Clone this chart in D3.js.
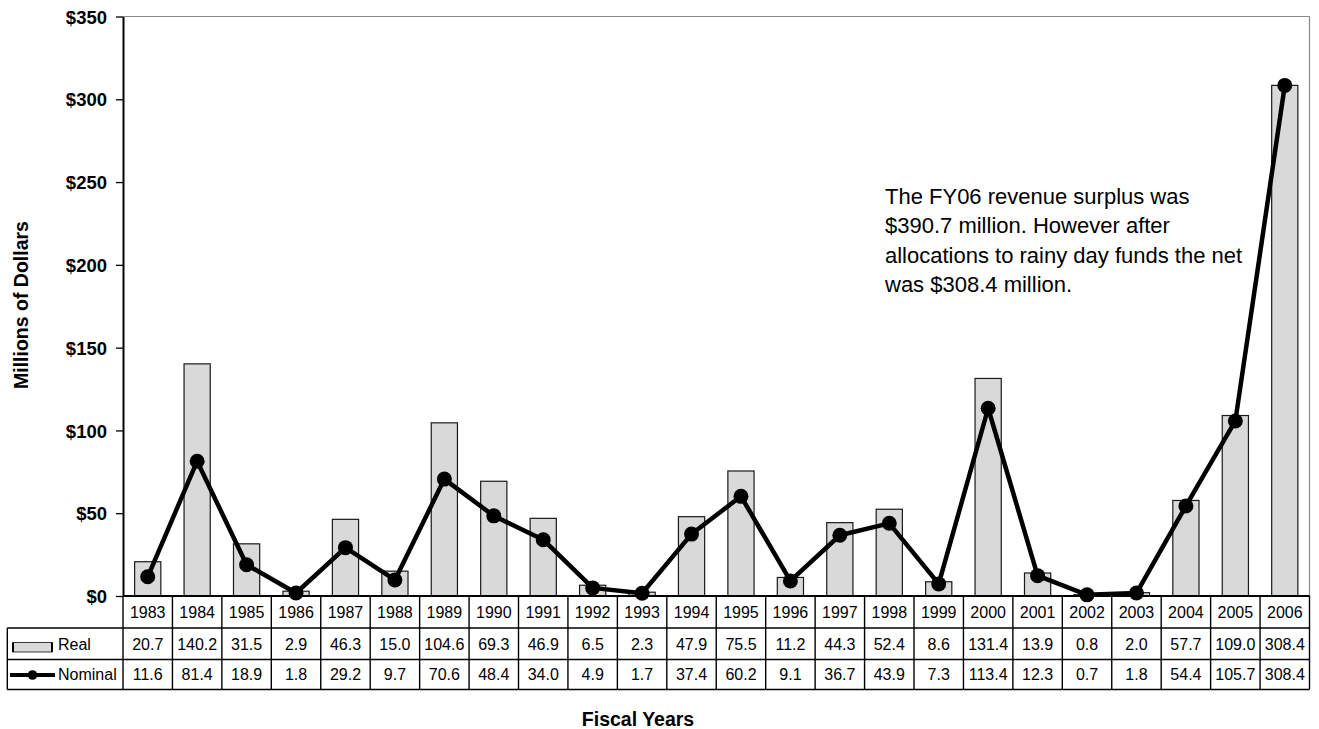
<!DOCTYPE html>
<html>
<head>
<meta charset="utf-8">
<script src="https://cdn.jsdelivr.net/npm/d3@7"></script>
<style>
  body { margin: 0; background: #fff; }
  svg { display: block; font-family: "Liberation Sans", Arial, sans-serif; }
</style>
</head>
<body>
<svg id="chart" width="1319" height="729"></svg>
<script>
const years = ["1983","1984","1985","1986","1987","1988","1989","1990","1991","1992","1993","1994","1995","1996","1997","1998","1999","2000","2001","2002","2003","2004","2005","2006"];
const realValues = [20.7,140.2,31.5,2.9,46.3,15.0,104.6,69.3,46.9,6.5,2.3,47.9,75.5,11.2,44.3,52.4,8.6,131.4,13.9,0.8,2.0,57.7,109.0,308.4];
const nominalValues = [11.6,81.4,18.9,1.8,29.2,9.7,70.6,48.4,34.0,4.9,1.7,37.4,60.2,9.1,36.7,43.9,7.3,113.4,12.3,0.7,1.8,54.4,105.7,308.4];
const yTicks = [0,50,100,150,200,250,300,350];
const seriesNames = ["Real","Nominal"];
const annotationLines = ["The FY06 revenue surplus was","$390.7 million. However after","allocations to rainy day funds the net","was $308.4 million."];

(function () {
const svg = d3.select("#chart");
const pL = 123, pR = 1309.5, pT = 16.5, pB = 596;
const tableLeft = 7.3;
const rowY = [596, 628, 659.5, 689.5];

const x = d3.scaleBand().domain(years).range([pL, pR]).paddingInner(0).paddingOuter(0);
const y = d3.scaleLinear().domain([0, 350]).range([pB, pT]);

// plot border (top & right)
svg.append("path")
  .attr("d", `M${pL},${pT}H${pR}V${pB}`)
  .attr("fill", "none").attr("stroke", "#8c8c8c").attr("stroke-width", 1.2);

// bars
const barW = x.bandwidth() * 0.53;
svg.append("g").selectAll("rect").data(years).join("rect")
  .attr("x", d => x(d) + (x.bandwidth() - barW) / 2)
  .attr("y", (d, i) => y(realValues[i]))
  .attr("width", barW)
  .attr("height", (d, i) => y(0) - y(realValues[i]))
  .attr("fill", "#d9d9d9").attr("stroke", "#1a1a1a").attr("stroke-width", 1.2);

// y axis
const yAxis = d3.axisLeft(y).tickValues(yTicks).tickFormat(d => "$" + d).tickSize(7).tickSizeOuter(0);
const gy = svg.append("g").attr("transform", `translate(${pL},0)`).call(yAxis);
gy.select(".domain").attr("stroke", "#000").attr("stroke-width", 2);
gy.selectAll(".tick line").attr("stroke", "#000").attr("stroke-width", 1.3);
gy.selectAll(".tick text").attr("x", -16).attr("dy", "0.36em")
  .attr("font-size", "18.5px").attr("font-weight", "bold").attr("fill", "#000")
  .attr("font-family", "'Liberation Sans', Arial, sans-serif");

// line + markers
const cx = d => x(d) + x.bandwidth() / 2;
const line = d3.line().x((d, i) => cx(years[i])).y(d => y(d));
svg.append("path").datum(nominalValues).attr("d", line)
  .attr("fill", "none").attr("stroke", "#000").attr("stroke-width", 4.5).attr("stroke-linejoin", "round");
svg.append("g").selectAll("circle").data(nominalValues).join("circle")
  .attr("cx", (d, i) => cx(years[i])).attr("cy", d => y(d)).attr("r", 7.5).attr("fill", "#000");

// data table
const tbl = svg.append("g");
const stroke = "#000", sw = 1.4;
tbl.append("line").attr("x1", pL).attr("x2", pR).attr("y1", rowY[0]).attr("y2", rowY[0]).attr("stroke", stroke).attr("stroke-width", 2);
[1, 2, 3].forEach(r => {
  tbl.append("line").attr("x1", tableLeft).attr("x2", pR).attr("y1", rowY[r]).attr("y2", rowY[r]).attr("stroke", stroke).attr("stroke-width", sw);
});
const vx = years.map(d => x(d)).concat([pR]);
tbl.selectAll("line.v").data(vx).join("line").attr("class", "v")
  .attr("x1", d => d).attr("x2", d => d).attr("y1", rowY[0]).attr("y2", rowY[3])
  .attr("stroke", stroke).attr("stroke-width", sw);
tbl.append("line").attr("x1", tableLeft).attr("x2", tableLeft).attr("y1", rowY[1]).attr("y2", rowY[3]).attr("stroke", stroke).attr("stroke-width", sw);

const cellText = (vals, r0, r1) => tbl.append("g").selectAll("text").data(vals).join("text")
  .attr("x", (d, i) => cx(years[i])).attr("y", (rowY[r0] + rowY[r1]) / 2)
  .attr("dy", "0.36em").attr("text-anchor", "middle").attr("font-size", "16px").attr("fill", "#000")
  .text(d => d);
cellText(years, 0, 1);
cellText(realValues.map(v => v.toFixed(1)), 1, 2);
cellText(nominalValues.map(v => v.toFixed(1)), 2, 3);

// legend keys
tbl.append("rect").attr("x", 13).attr("y", 642.5).attr("width", 39).attr("height", 9.5)
  .attr("fill", "#d9d9d9").attr("stroke", "#333").attr("stroke-width", 1);
tbl.append("line").attr("x1", 13).attr("x2", 13).attr("y1", 642.5).attr("y2", 652).attr("stroke", "#000").attr("stroke-width", 2);
tbl.append("line").attr("x1", 52).attr("x2", 52).attr("y1", 642.5).attr("y2", 652).attr("stroke", "#000").attr("stroke-width", 2);
tbl.append("text").attr("x", 58).attr("y", (rowY[1] + rowY[2]) / 2).attr("dy", "0.36em").attr("font-size", "16px").text(seriesNames[0]);
tbl.append("line").attr("x1", 10).attr("x2", 55).attr("y1", 675).attr("y2", 675).attr("stroke", "#000").attr("stroke-width", 4);
tbl.append("circle").attr("cx", 32.5).attr("cy", 675).attr("r", 4.8).attr("fill", "#000");
tbl.append("text").attr("x", 58).attr("y", (rowY[2] + rowY[3]) / 2).attr("dy", "0.36em").attr("font-size", "16px").text(seriesNames[1]);

// axis titles
svg.append("text").attr("transform", "translate(28,305) rotate(-90)")
  .attr("text-anchor", "middle").attr("font-size", "19.5px").attr("font-weight", "bold").text("Millions of Dollars");
svg.append("text").attr("x", 638).attr("y", 726)
  .attr("text-anchor", "middle").attr("font-size", "19.5px").attr("font-weight", "bold").text("Fiscal Years");

// annotation
svg.append("g").selectAll("text").data(annotationLines).join("text")
  .attr("x", 885).attr("y", (d, i) => 204.3 + i * 29.1)
  .attr("font-size", "22px").attr("fill", "#000").text(d => d);
})();
</script>
</body>
</html>
